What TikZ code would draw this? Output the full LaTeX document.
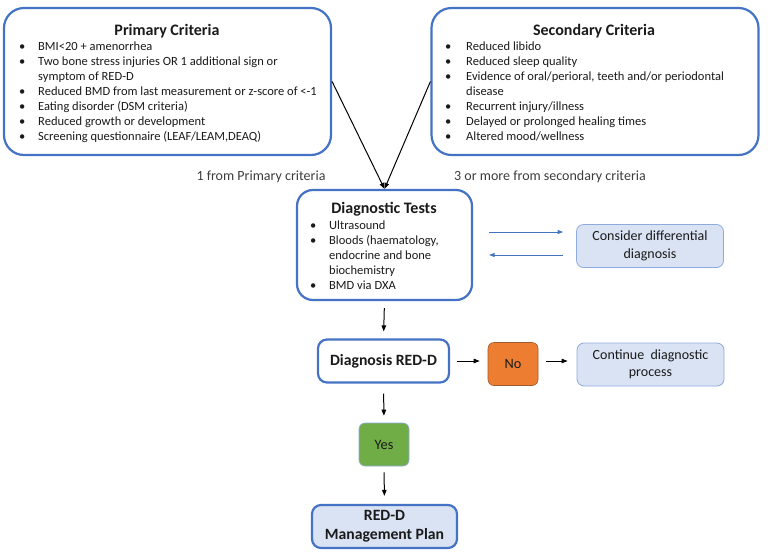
\documentclass[tikz,border=0pt]{standalone}
\usepackage{fontspec}
\setmainfont{Carlito}
\usetikzlibrary{arrows.meta}
\definecolor{oblue}{HTML}{4472C4}
\definecolor{lblue}{HTML}{DAE3F3}
\definecolor{lbord}{HTML}{8FAADC}
\definecolor{oorange}{HTML}{ED7D31}
\definecolor{oborder}{HTML}{9E5A2E}
\definecolor{ogreen}{HTML}{70AD47}
\definecolor{txt}{HTML}{1A1A1A}
\tikzset{
  bigbox/.style={draw=oblue, line width=2.2pt, rounded corners=20pt, fill=white, inner sep=0pt},
  midbox/.style={draw=oblue, line width=2.2pt, rounded corners=9pt, fill=white, inner sep=0pt},
  softbox/.style={draw=lbord, line width=0.8pt, rounded corners=7pt, fill=lblue, inner sep=0pt, align=center, text=txt, font=\fontsize{14}{17.5}\selectfont},
  nobox/.style={draw=oborder, line width=0.6pt, rounded corners=6pt, fill=oorange, inner sep=0pt, text=txt, font=\fontsize{14.3}{16}\selectfont},
  yesbox/.style={draw=lbord, line width=0.6pt, rounded corners=6pt, fill=ogreen, inner sep=0pt, text=txt, font=\fontsize{14.3}{16}\selectfont},
  ttl/.style={anchor=base, inner sep=0pt, text=txt, font=\fontsize{16}{19}\selectfont\bfseries},
  lst/.style={anchor=north west, inner sep=0pt, text=txt, font=\fontsize{12.5}{15}\selectfont},
  lbl/.style={anchor=base, inner sep=0pt, text=txt!85, font=\fontsize{14}{16}\selectfont},
  arr/.style={-{Triangle[length=6pt,width=4.5pt]}, line width=1pt, black},
  barr/.style={-{Triangle[length=5.5pt,width=4pt]}, line width=0.8pt, oblue},
}
\begin{document}
\begin{tikzpicture}[x=1pt,y=-1pt]
\useasboundingbox (0,0) rectangle (768,555);
% boxes
\node[bigbox, minimum width=327pt, minimum height=147pt] (prim) at (167.5,81.5) {};
\node[bigbox, minimum width=327pt, minimum height=147pt] (sec) at (595,81.5) {};
\node[bigbox, rounded corners=16pt, minimum width=175pt, minimum height=110pt] (diag) at (384.5,245) {};
\node[softbox, minimum width=147pt, minimum height=43pt] (cons) at (650,246) {Consider differential\\diagnosis};
\node[midbox, minimum width=131pt, minimum height=43pt, font=\fontsize{15.7}{18}\selectfont\bfseries, text=txt] (dred) at (383.5,361) {Diagnosis RED-D};
\node[nobox, minimum width=50pt, minimum height=43pt] (no) at (513,364) {No};
\node[softbox, minimum width=147pt, minimum height=43pt] (cont) at (650.5,364.5) {Continue\ \ diagnostic\\process};
\node[yesbox, minimum width=50pt, minimum height=43pt] (yes) at (384,444.5) {Yes};
\node[midbox, fill=lblue, minimum width=145pt, minimum height=43pt, align=center, font=\fontsize{15.7}{19}\selectfont\bfseries, text=txt] (mgmt) at (384.5,526.5) {RED-D\\Management Plan};
% titles
\node[ttl] (pt) at (167,35) {Primary Criteria};
\node[ttl] (st) at (594,35) {Secondary Criteria};
\node[ttl] (dt) at (384,213.5) {Diagnostic Tests};
% lists
\node[lst] (pl) at (19,39.5) {\begin{tabular}{@{}p{19pt}@{}l@{}}
•& BMI<20 + amenorrhea\\
•& Two bone stress injuries OR 1 additional sign or\\
 & symptom of RED-D\\
•& Reduced BMD from last measurement or z-score of <-1\\
•& Eating disorder (DSM criteria)\\
•& Reduced growth or development\\
•& Screening questionnaire (LEAF/LEAM,DEAQ)
\end{tabular}};
\node[lst] (sl) at (445,39.5) {\begin{tabular}{@{}p{21pt}@{}l@{}}
•& Reduced libido\\
•& Reduced sleep quality\\
•& Evidence of oral/perioral, teeth and/or periodontal\\
 & disease\\
•& Recurrent injury/illness\\
•& Delayed or prolonged healing times\\
•& Altered mood/wellness
\end{tabular}};
\node[lst] (dl) at (310,218.5) {\begin{tabular}{@{}p{19pt}@{}l@{}}
•& Ultrasound\\
•& Bloods (haematology,\\
 & endocrine and bone\\
 & biochemistry\\
•& BMD via DXA
\end{tabular}};
% labels
\node[lbl] (l1) at (261,180) {1 from Primary criteria};
\node[lbl] (l2) at (550,180) {3 or more from secondary criteria};
% connectors
\draw[arr] (prim.east) -- (diag.north);
\draw[arr] (sec.west) -- (diag.north);
\draw[barr, shorten <=16pt, shorten >=13pt] (diag.east |- 0,232) -- (cons.west |- 0,232);
\draw[barr, shorten <=13pt, shorten >=16pt] (cons.west |- 0,255) -- (diag.east |- 0,255);
\draw[arr, shorten <=7pt, shorten >=7pt] (diag.south) -- (dred.north);
\draw[arr, shorten <=7pt, shorten >=8pt] (dred.east) -- (dred.east -| no.west);
\draw[arr, shorten <=8pt, shorten >=9pt] (no.east |- dred.east) -- (cont.west |- dred.east);
\draw[arr, shorten <=10pt, shorten >=7pt] (dred.south) -- (yes.north);
\draw[arr, shorten <=6pt, shorten >=8pt] (yes.south) -- (mgmt.north);
\end{tikzpicture}
\end{document}
